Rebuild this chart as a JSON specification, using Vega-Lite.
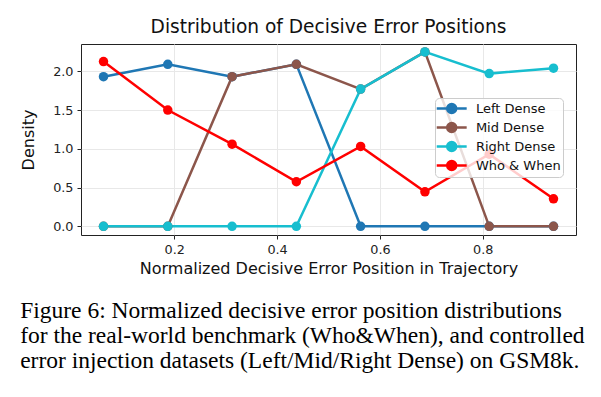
{
  "$schema": "https://vega.github.io/schema/vega-lite/v6.json",
  "padding": {"left": 20, "top": 17, "right": 5, "bottom": 5},
  "background": "white",
  "title": {
    "text": ["Figure 6: Normalized decisive error position distributions", "for the real-world benchmark (Who&When), and controlled", "error injection datasets (Left/Mid/Right Dense) on GSM8k."],
    "orient": "bottom",
    "anchor": "start",
    "font": "Liberation Serif",
    "fontSize": 23.5,
    "fontWeight": "normal",
    "color": "#000",
    "lineHeight": 25,
    "offset": 22
  },
  "data": {
    "values": [
      {"x": 0.0625, "density": 1.93, "series": "Left Dense"},
      {"x": 0.1875, "density": 2.09, "series": "Left Dense"},
      {"x": 0.3125, "density": 1.93, "series": "Left Dense"},
      {"x": 0.4375, "density": 2.09, "series": "Left Dense"},
      {"x": 0.5625, "density": 0, "series": "Left Dense"},
      {"x": 0.6875, "density": 0, "series": "Left Dense"},
      {"x": 0.8125, "density": 0, "series": "Left Dense"},
      {"x": 0.9375, "density": 0, "series": "Left Dense"},
      {"x": 0.0625, "density": 0, "series": "Mid Dense"},
      {"x": 0.1875, "density": 0, "series": "Mid Dense"},
      {"x": 0.3125, "density": 1.93, "series": "Mid Dense"},
      {"x": 0.4375, "density": 2.09, "series": "Mid Dense"},
      {"x": 0.5625, "density": 1.77, "series": "Mid Dense"},
      {"x": 0.6875, "density": 2.25, "series": "Mid Dense"},
      {"x": 0.8125, "density": 0, "series": "Mid Dense"},
      {"x": 0.9375, "density": 0, "series": "Mid Dense"},
      {"x": 0.0625, "density": 0, "series": "Right Dense"},
      {"x": 0.1875, "density": 0, "series": "Right Dense"},
      {"x": 0.3125, "density": 0, "series": "Right Dense"},
      {"x": 0.4375, "density": 0, "series": "Right Dense"},
      {"x": 0.5625, "density": 1.77, "series": "Right Dense"},
      {"x": 0.6875, "density": 2.25, "series": "Right Dense"},
      {"x": 0.8125, "density": 1.97, "series": "Right Dense"},
      {"x": 0.9375, "density": 2.04, "series": "Right Dense"},
      {"x": 0.0625, "density": 2.125, "series": "Who & When"},
      {"x": 0.1875, "density": 1.5, "series": "Who & When"},
      {"x": 0.3125, "density": 1.06, "series": "Who & When"},
      {"x": 0.4375, "density": 0.575, "series": "Who & When"},
      {"x": 0.5625, "density": 1.03, "series": "Who & When"},
      {"x": 0.6875, "density": 0.445, "series": "Who & When"},
      {"x": 0.8125, "density": 0.93, "series": "Who & When"},
      {"x": 0.9375, "density": 0.355, "series": "Who & When"}
    ]
  },
  "vconcat": [
    {
      "width": 495,
      "height": 191,
      "title": {
        "text": "Distribution of Decisive Error Positions",
        "font": "DejaVu Sans",
        "fontSize": 18.6,
        "fontWeight": "normal",
        "color": "#111",
        "offset": 7
      },
      "encoding": {
        "x": {
          "field": "x", "type": "quantitative",
          "scale": {"domain": [0.01875, 0.98125], "nice": false, "zero": false},
          "axis": {"values": [0.2, 0.4, 0.6, 0.8], "format": ".1f", "title": "Normalized Decisive Error Position in Trajectory", "titlePadding": 5}
        },
        "y": {
          "field": "density", "type": "quantitative",
          "scale": {"domain": [-0.112, 2.352], "nice": false, "zero": false},
          "axis": {"values": [0, 0.5, 1, 1.5, 2], "format": ".1f", "title": "Density", "titlePadding": 16}
        },
        "color": {
          "field": "series", "type": "nominal",
          "scale": {"domain": ["Left Dense", "Mid Dense", "Right Dense", "Who & When"], "range": ["#1f77b4", "#8c564b", "#17becf", "#ff0000"]},
          "legend": {
            "title": null,
            "orient": "none",
            "legendX": 354,
            "legendY": 54,
            "fillColor": "rgba(255,255,255,0.8)",
            "strokeColor": "#cccccc",
            "cornerRadius": 4,
            "padding": 2,
            "labelFont": "DejaVu Sans",
            "labelFontSize": 13,
            "labelColor": "#111",
            "labelOffset": 15.7,
            "rowPadding": 0,
            "symbolOffset": 6.2,
            "symbolType": "M-2.14,0L2.14,0M-0.64,0A0.64,0.64 0 1,0 0.64,0A0.64,0.64 0 1,0 -0.64,0",
            "symbolSize": 196,
            "symbolStrokeWidth": 2.5,
            "symbolOpacity": 1
          }
        }
      },
      "layer": [
        {"mark": {"type": "line", "strokeWidth": 2.5}},
        {"mark": {"type": "point", "filled": true, "size": 90, "opacity": 1}}
      ]
    }
  ],
  "config": {
    "font": "DejaVu Sans",
    "view": {"stroke": "#222", "strokeWidth": 1},
    "legend": {"labelFontSize": 13, "labelFont": "DejaVu Sans", "labelLimit": 200},
    "axis": {
      "domain": false,
      "grid": true,
      "gridColor": "#e8e8e8",
      "gridWidth": 1,
      "tickColor": "#222",
      "tickSize": 4,
      "labelFont": "DejaVu Sans",
      "labelFontSize": 12.8,
      "labelColor": "#222",
      "labelPadding": 4,
      "titleFont": "DejaVu Sans",
      "titleFontSize": 16,
      "titleFontWeight": "normal",
      "titleColor": "#111"
    }
  }
}
